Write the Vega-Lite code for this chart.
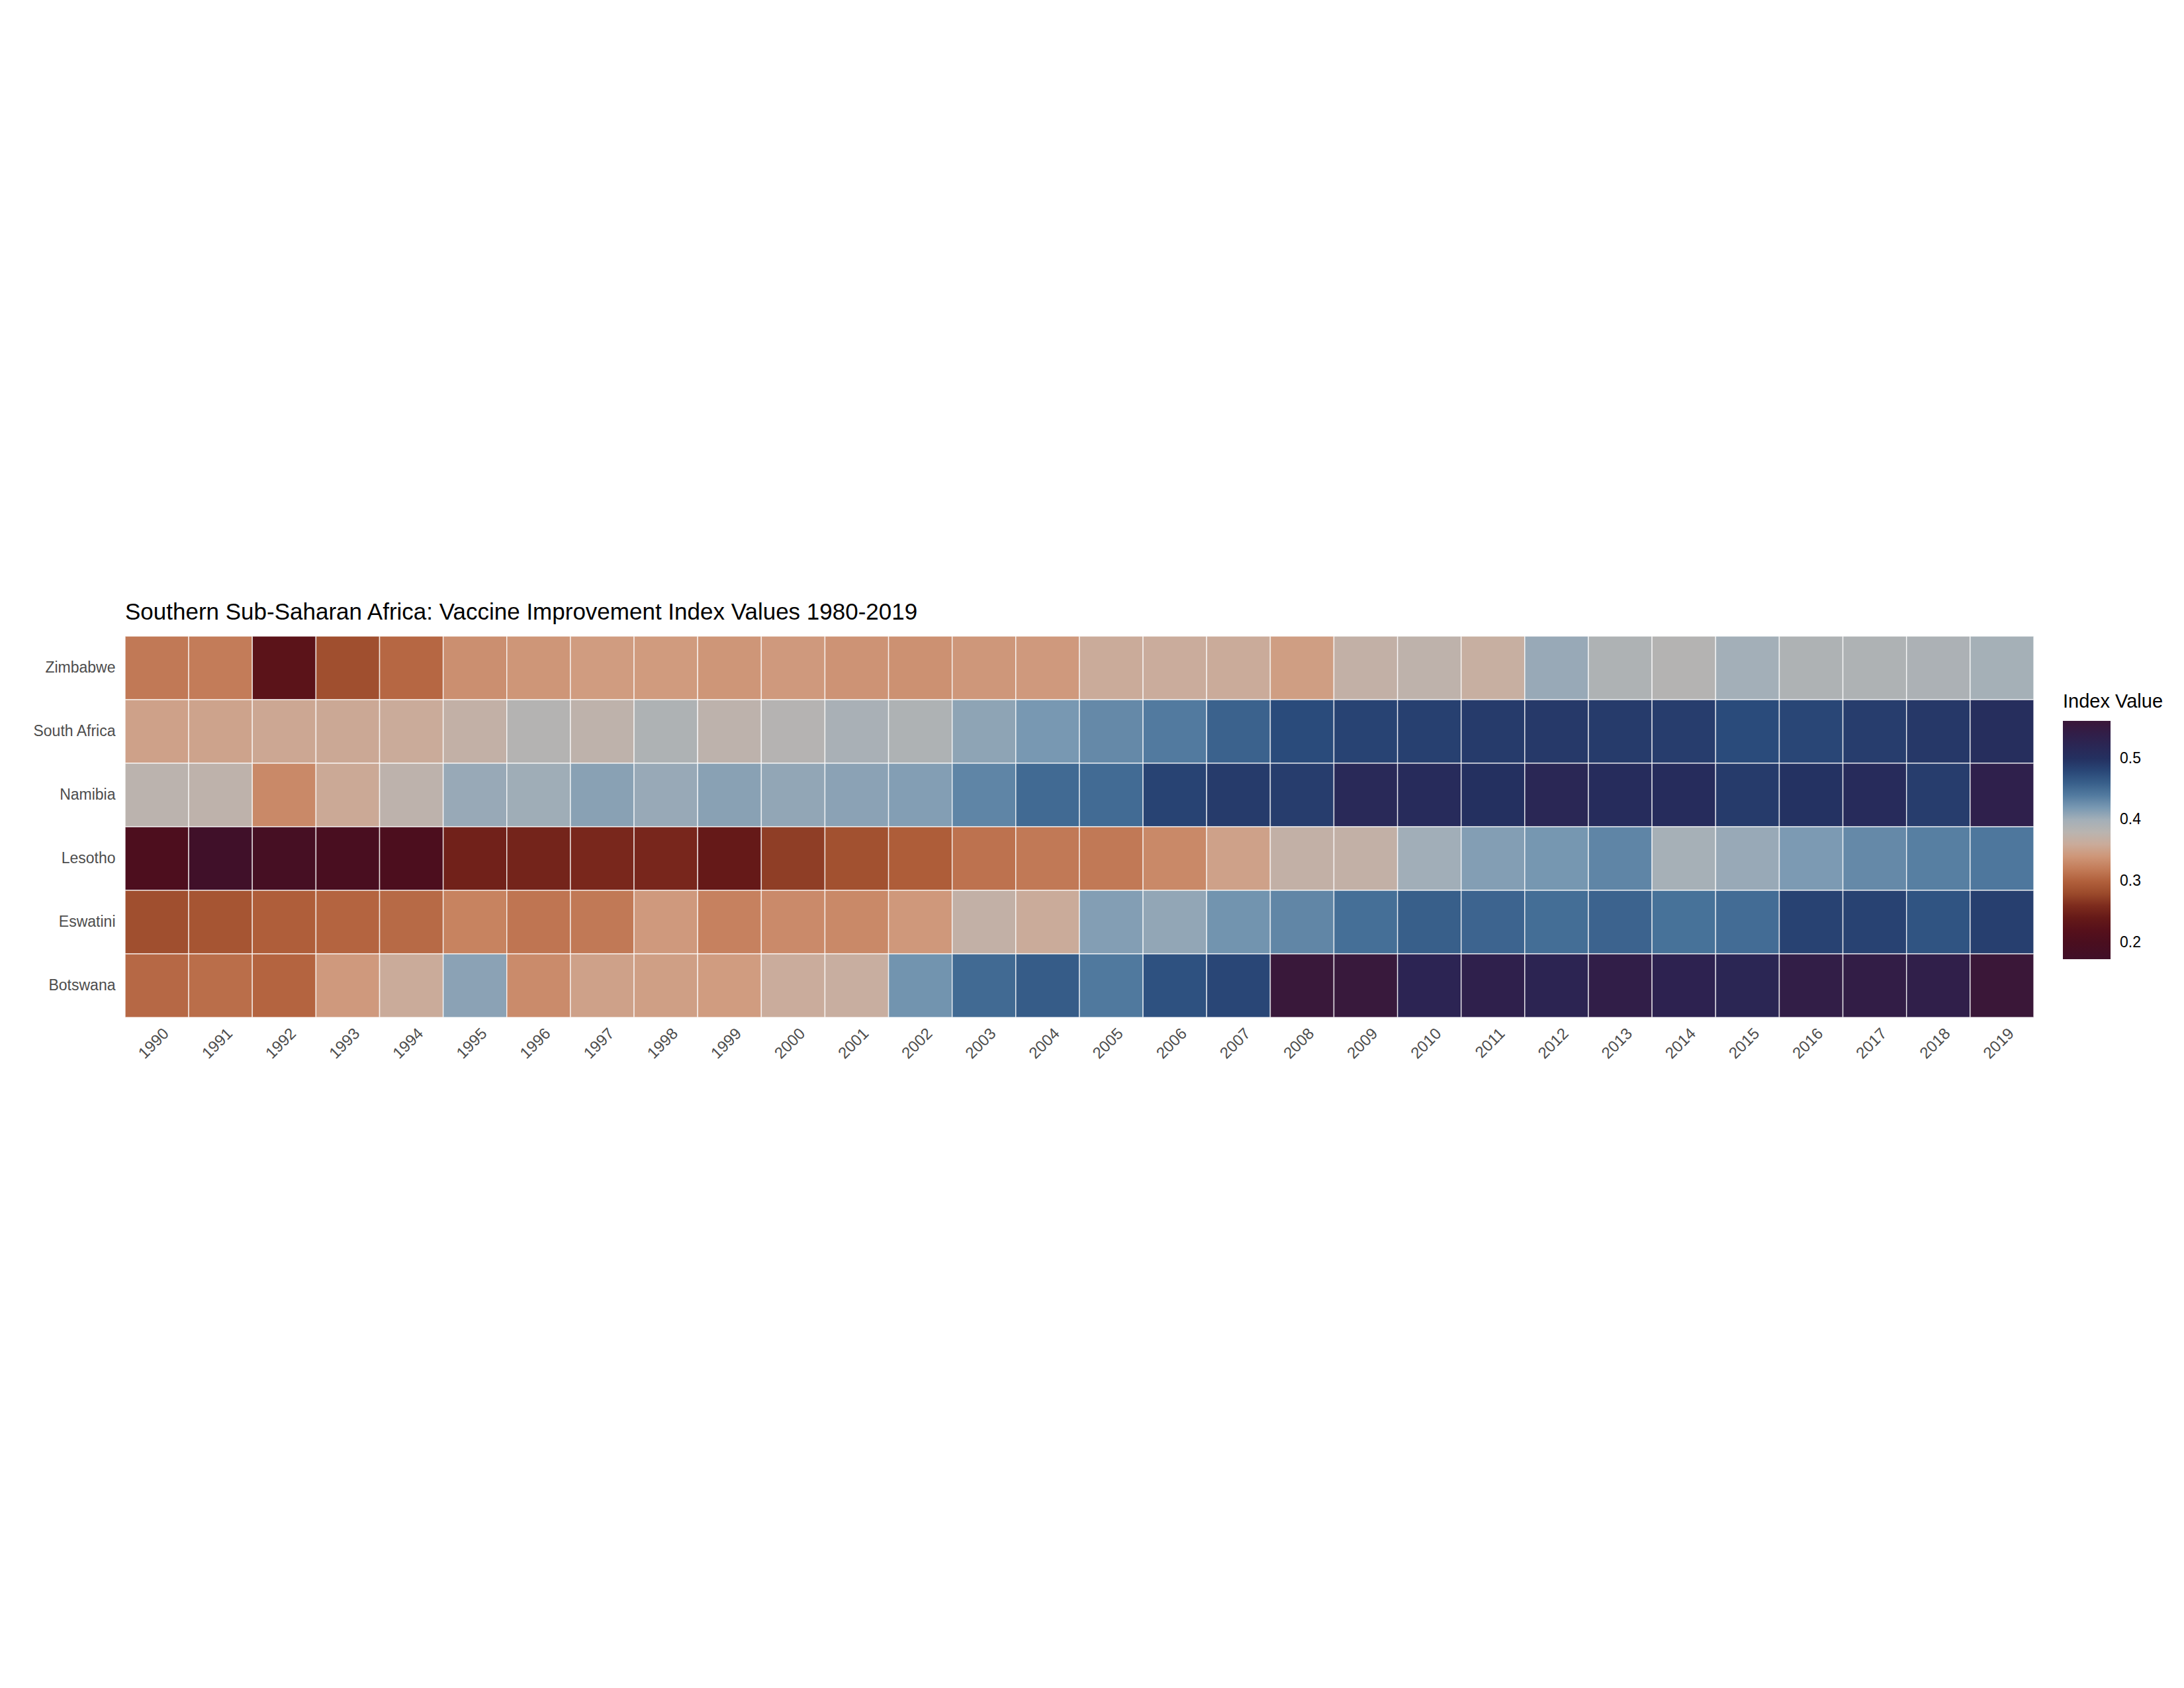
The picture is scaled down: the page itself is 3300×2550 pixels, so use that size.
{
  "$schema": "https://vega.github.io/schema/vega-lite/v6.json",
  "width": 2884,
  "height": 576,
  "autosize": {"type": "none"},
  "padding": {"left": 189, "top": 961, "right": 227, "bottom": 1013},
  "background": "white",
  "title": {
    "text": "Southern Sub-Saharan Africa: Vaccine Improvement Index Values 1980-2019",
    "anchor": "start",
    "frame": "group",
    "font": "Liberation Sans",
    "fontSize": 35,
    "fontWeight": "normal",
    "color": "#000000",
    "baseline": "alphabetic",
    "offset": -11
  },
  "datasets": {
    "d": [
      {"country":"Zimbabwe","year":"1990","value":0.318},{"country":"Zimbabwe","year":"1991","value":0.32},{"country":"Zimbabwe","year":"1992","value":0.228},{"country":"Zimbabwe","year":"1993","value":0.285},{"country":"Zimbabwe","year":"1994","value":0.305},{"country":"Zimbabwe","year":"1995","value":0.335},{"country":"Zimbabwe","year":"1996","value":0.34},{"country":"Zimbabwe","year":"1997","value":0.345},{"country":"Zimbabwe","year":"1998","value":0.344},{"country":"Zimbabwe","year":"1999","value":0.34},{"country":"Zimbabwe","year":"2000","value":0.343},{"country":"Zimbabwe","year":"2001","value":0.338},{"country":"Zimbabwe","year":"2002","value":0.336},{"country":"Zimbabwe","year":"2003","value":0.341},{"country":"Zimbabwe","year":"2004","value":0.343},{"country":"Zimbabwe","year":"2005","value":0.36},{"country":"Zimbabwe","year":"2006","value":0.361},{"country":"Zimbabwe","year":"2007","value":0.36},{"country":"Zimbabwe","year":"2008","value":0.347},{"country":"Zimbabwe","year":"2009","value":0.37},{"country":"Zimbabwe","year":"2010","value":0.375},{"country":"Zimbabwe","year":"2011","value":0.365},{"country":"Zimbabwe","year":"2012","value":0.405},{"country":"Zimbabwe","year":"2013","value":0.39},{"country":"Zimbabwe","year":"2014","value":0.385},{"country":"Zimbabwe","year":"2015","value":0.4},{"country":"Zimbabwe","year":"2016","value":0.39},{"country":"Zimbabwe","year":"2017","value":0.39},{"country":"Zimbabwe","year":"2018","value":0.392},{"country":"Zimbabwe","year":"2019","value":0.398},
      {"country":"South Africa","year":"1990","value":0.35},{"country":"South Africa","year":"1991","value":0.352},{"country":"South Africa","year":"1992","value":0.356},{"country":"South Africa","year":"1993","value":0.357},{"country":"South Africa","year":"1994","value":0.36},{"country":"South Africa","year":"1995","value":0.37},{"country":"South Africa","year":"1996","value":0.385},{"country":"South Africa","year":"1997","value":0.375},{"country":"South Africa","year":"1998","value":0.39},{"country":"South Africa","year":"1999","value":0.376},{"country":"South Africa","year":"2000","value":0.384},{"country":"South Africa","year":"2001","value":0.395},{"country":"South Africa","year":"2002","value":0.39},{"country":"South Africa","year":"2003","value":0.41},{"country":"South Africa","year":"2004","value":0.42},{"country":"South Africa","year":"2005","value":0.43},{"country":"South Africa","year":"2006","value":0.44},{"country":"South Africa","year":"2007","value":0.458},{"country":"South Africa","year":"2008","value":0.475},{"country":"South Africa","year":"2009","value":0.482},{"country":"South Africa","year":"2010","value":0.485},{"country":"South Africa","year":"2011","value":0.49},{"country":"South Africa","year":"2012","value":0.492},{"country":"South Africa","year":"2013","value":0.49},{"country":"South Africa","year":"2014","value":0.488},{"country":"South Africa","year":"2015","value":0.475},{"country":"South Africa","year":"2016","value":0.48},{"country":"South Africa","year":"2017","value":0.488},{"country":"South Africa","year":"2018","value":0.493},{"country":"South Africa","year":"2019","value":0.505},
      {"country":"Namibia","year":"1990","value":0.378},{"country":"Namibia","year":"1991","value":0.375},{"country":"Namibia","year":"1992","value":0.33},{"country":"Namibia","year":"1993","value":0.358},{"country":"Namibia","year":"1994","value":0.376},{"country":"Namibia","year":"1995","value":0.405},{"country":"Namibia","year":"1996","value":0.402},{"country":"Namibia","year":"1997","value":0.412},{"country":"Namibia","year":"1998","value":0.405},{"country":"Namibia","year":"1999","value":0.412},{"country":"Namibia","year":"2000","value":0.408},{"country":"Namibia","year":"2001","value":0.411},{"country":"Namibia","year":"2002","value":0.415},{"country":"Namibia","year":"2003","value":0.433},{"country":"Namibia","year":"2004","value":0.452},{"country":"Namibia","year":"2005","value":0.451},{"country":"Namibia","year":"2006","value":0.482},{"country":"Namibia","year":"2007","value":0.49},{"country":"Namibia","year":"2008","value":0.488},{"country":"Namibia","year":"2009","value":0.515},{"country":"Namibia","year":"2010","value":0.51},{"country":"Namibia","year":"2011","value":0.5},{"country":"Namibia","year":"2012","value":0.52},{"country":"Namibia","year":"2013","value":0.508},{"country":"Namibia","year":"2014","value":0.508},{"country":"Namibia","year":"2015","value":0.49},{"country":"Namibia","year":"2016","value":0.498},{"country":"Namibia","year":"2017","value":0.51},{"country":"Namibia","year":"2018","value":0.488},{"country":"Namibia","year":"2019","value":0.535},
      {"country":"Lesotho","year":"1990","value":0.205},{"country":"Lesotho","year":"1991","value":0.173},{"country":"Lesotho","year":"1992","value":0.19},{"country":"Lesotho","year":"1993","value":0.197},{"country":"Lesotho","year":"1994","value":0.203},{"country":"Lesotho","year":"1995","value":0.25},{"country":"Lesotho","year":"1996","value":0.253},{"country":"Lesotho","year":"1997","value":0.257},{"country":"Lesotho","year":"1998","value":0.256},{"country":"Lesotho","year":"1999","value":0.24},{"country":"Lesotho","year":"2000","value":0.272},{"country":"Lesotho","year":"2001","value":0.286},{"country":"Lesotho","year":"2002","value":0.297},{"country":"Lesotho","year":"2003","value":0.313},{"country":"Lesotho","year":"2004","value":0.318},{"country":"Lesotho","year":"2005","value":0.318},{"country":"Lesotho","year":"2006","value":0.33},{"country":"Lesotho","year":"2007","value":0.35},{"country":"Lesotho","year":"2008","value":0.37},{"country":"Lesotho","year":"2009","value":0.37},{"country":"Lesotho","year":"2010","value":0.401},{"country":"Lesotho","year":"2011","value":0.415},{"country":"Lesotho","year":"2012","value":0.421},{"country":"Lesotho","year":"2013","value":0.433},{"country":"Lesotho","year":"2014","value":0.397},{"country":"Lesotho","year":"2015","value":0.405},{"country":"Lesotho","year":"2016","value":0.418},{"country":"Lesotho","year":"2017","value":0.43},{"country":"Lesotho","year":"2018","value":0.437},{"country":"Lesotho","year":"2019","value":0.442},
      {"country":"Eswatini","year":"1990","value":0.285},{"country":"Eswatini","year":"1991","value":0.29},{"country":"Eswatini","year":"1992","value":0.298},{"country":"Eswatini","year":"1993","value":0.303},{"country":"Eswatini","year":"1994","value":0.307},{"country":"Eswatini","year":"1995","value":0.325},{"country":"Eswatini","year":"1996","value":0.315},{"country":"Eswatini","year":"1997","value":0.318},{"country":"Eswatini","year":"1998","value":0.343},{"country":"Eswatini","year":"1999","value":0.324},{"country":"Eswatini","year":"2000","value":0.331},{"country":"Eswatini","year":"2001","value":0.33},{"country":"Eswatini","year":"2002","value":0.342},{"country":"Eswatini","year":"2003","value":0.37},{"country":"Eswatini","year":"2004","value":0.36},{"country":"Eswatini","year":"2005","value":0.415},{"country":"Eswatini","year":"2006","value":0.408},{"country":"Eswatini","year":"2007","value":0.423},{"country":"Eswatini","year":"2008","value":0.432},{"country":"Eswatini","year":"2009","value":0.448},{"country":"Eswatini","year":"2010","value":0.46},{"country":"Eswatini","year":"2011","value":0.456},{"country":"Eswatini","year":"2012","value":0.449},{"country":"Eswatini","year":"2013","value":0.457},{"country":"Eswatini","year":"2014","value":0.446},{"country":"Eswatini","year":"2015","value":0.45},{"country":"Eswatini","year":"2016","value":0.483},{"country":"Eswatini","year":"2017","value":0.483},{"country":"Eswatini","year":"2018","value":0.468},{"country":"Eswatini","year":"2019","value":0.486},
      {"country":"Botswana","year":"1990","value":0.306},{"country":"Botswana","year":"1991","value":0.31},{"country":"Botswana","year":"1992","value":0.303},{"country":"Botswana","year":"1993","value":0.343},{"country":"Botswana","year":"1994","value":0.36},{"country":"Botswana","year":"1995","value":0.411},{"country":"Botswana","year":"1996","value":0.332},{"country":"Botswana","year":"1997","value":0.35},{"country":"Botswana","year":"1998","value":0.348},{"country":"Botswana","year":"1999","value":0.345},{"country":"Botswana","year":"2000","value":0.361},{"country":"Botswana","year":"2001","value":0.364},{"country":"Botswana","year":"2002","value":0.423},{"country":"Botswana","year":"2003","value":0.452},{"country":"Botswana","year":"2004","value":0.462},{"country":"Botswana","year":"2005","value":0.441},{"country":"Botswana","year":"2006","value":0.47},{"country":"Botswana","year":"2007","value":0.48},{"country":"Botswana","year":"2008","value":0.559},{"country":"Botswana","year":"2009","value":0.556},{"country":"Botswana","year":"2010","value":0.525},{"country":"Botswana","year":"2011","value":0.535},{"country":"Botswana","year":"2012","value":0.526},{"country":"Botswana","year":"2013","value":0.54},{"country":"Botswana","year":"2014","value":0.53},{"country":"Botswana","year":"2015","value":0.522},{"country":"Botswana","year":"2016","value":0.542},{"country":"Botswana","year":"2017","value":0.543},{"country":"Botswana","year":"2018","value":0.538},{"country":"Botswana","year":"2019","value":0.561}
    ]
  },
  "data": {"name": "d"},
  "mark": {"type": "rect", "stroke": "white", "strokeWidth": 1.5, "strokeOpacity": 0.75},
  "encoding": {
    "x": {
      "field": "year", "type": "ordinal", "title": null,
      "scale": {"paddingInner": 0, "paddingOuter": 0},
      "axis": {"labelAngle": -45, "labelAlign": "right", "labelBaseline": "top", "labelPadding": 12, "labelOffset": 6, "labelFontSize": 24, "labelFont": "Liberation Sans", "labelColor": "#4d4d4d", "ticks": false, "domain": false, "grid": false}
    },
    "y": {
      "field": "country", "type": "nominal", "title": null,
      "sort": ["Zimbabwe", "South Africa", "Namibia", "Lesotho", "Eswatini", "Botswana"],
      "scale": {"paddingInner": 0, "paddingOuter": 0},
      "axis": {"labelPadding": 15, "labelFontSize": 23, "labelFont": "Liberation Sans", "labelColor": "#4d4d4d", "ticks": false, "domain": false, "grid": false}
    },
    "color": {
      "field": "value", "type": "quantitative", "title": "Index Value",
      "scale": {
        "type": "linear",
        "domain": [0.173, 0.2, 0.215, 0.237, 0.258, 0.28, 0.3, 0.323, 0.345, 0.363, 0.381, 0.4, 0.42, 0.445, 0.474, 0.5, 0.53, 0.561],
        "range": ["#401029", "#4a0e1f", "#520e1c", "#621617", "#7a281c", "#9b4a2b", "#b1603c", "#c6805d", "#d09c80", "#c9ae9f", "#b8b4b1", "#a3afb8", "#7898b2", "#48739a", "#2a4c7c", "#243060", "#2d2250", "#3a1738"],
        "interpolate": "rgb"
      },
      "legend": {
        "orient": "none", "legendX": 2928, "legendY": 85, "direction": "vertical",
        "gradientLength": 360, "gradientThickness": 72, "gradientStrokeWidth": 0,
        "values": [0.2, 0.3, 0.4, 0.5], "format": ".1f",
        "titleFontSize": 29, "titleFont": "Liberation Sans", "titleFontWeight": "normal", "titleColor": "#000000", "titlePadding": 14,
        "labelFontSize": 23, "labelFont": "Liberation Sans", "labelColor": "#000000", "labelOffset": 14,
        "padding": 0
      }
    }
  },
  "config": {"view": {"stroke": null}}
}
